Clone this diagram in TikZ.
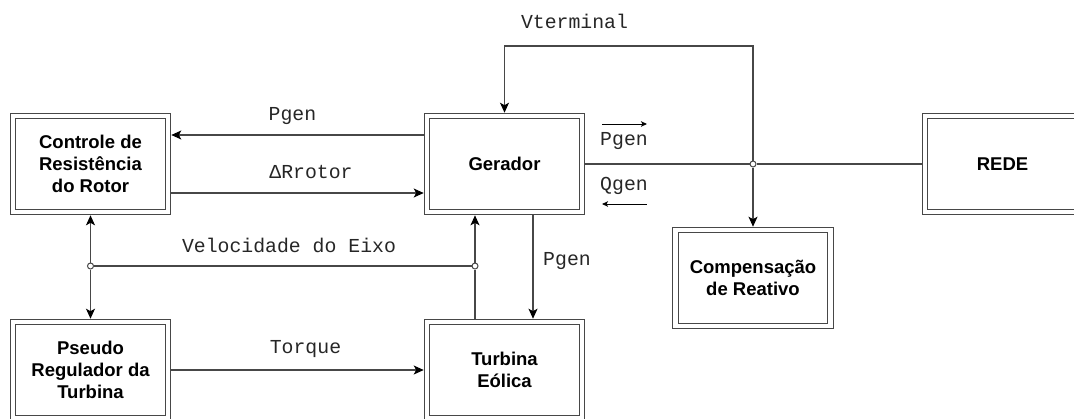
\documentclass[tikz,border=0pt]{standalone}
\usepackage{fontspec}
\usetikzlibrary{arrows.meta}
\newfontfamily\boxfont{Liberation Sans}
\newfontfamily\lblfont{Liberation Mono}

\tikzset{
	box/.style={draw=black!72, double=white, double distance=4.4pt, line width=1.1pt,
		minimum width=155pt, minimum height=96pt, outer sep=3.3pt, align=center,
		font={\boxfont\bfseries\fontsize{18.5}{21.8}\selectfont}},
	arr/.style={draw=black!72, line width=1.1pt, -{Stealth[length=10pt,width=9pt,inset=2.5pt,color=black]}},
	line/.style={draw=black!72, line width=1.1pt},
	sarr/.style={draw=black, line width=0.9pt, -{Stealth[length=6pt,width=5.5pt,inset=1.5pt]}},
	dot/.style={circle, draw=black!72, fill=white, line width=1pt, inner sep=0pt, minimum size=6pt},
	lbl/.style={inner sep=0pt, text=black!85, font={\lblfont\fontsize{19.8}{22}\selectfont}}
}

\begin{document}
\begin{tikzpicture}[x=1pt,y=-1pt]
	\useasboundingbox (0,0) rectangle (1074,418);
	% blocos
	\node[box] (ctrl) at (90.5,164) {Controle de\\Resistência\\do Rotor};
	\node[box] (ger) at (504.5,164) {Gerador};
	\node[box] (rede) at (1002.5,164) {REDE};
	\node[box] (comp) at (753,278) {Compensação\\de Reativo};
	\node[box] (pseudo) at (90.5,370) {Pseudo\\Regulador da\\Turbina};
	\node[box] (turb) at (504.5,370) {Turbina\\Eólica};
	% juncoes
	\node[dot] (j1) at (753,164) {};
	\node[dot] (j2) at (90.5,266) {};
	\node[dot] (j3) at (475,266) {};
	\coordinate (vt) at (753,46);
	\coordinate (pg) at (533,266);
	% ligacoes
	\draw[arr] ([yshift=29pt]ger.west) -- ([yshift=29pt]ctrl.east);
	\draw[arr] ([yshift=-29pt]ctrl.east) -- ([yshift=-29pt]ger.west);
	\draw[line] (ger.east) -- (j1);
	\draw[line] (j1) -- (rede.west);
	\draw[arr] (j1) -- (comp.north);
	\draw[arr] (j1) -- (vt) -| (ger.north);
	\draw[line] (j2) -- (j3);
	\draw[arr] (j2) -- (ctrl.south);
	\draw[arr] (j2) -- (pseudo.north);
	\draw[line] (turb.north -| j3) -- (j3);
	\draw[arr] (j3) -- (ger.south -| j3);
	\draw[arr] (ger.south -| pg) -- (turb.north -| pg);
	\draw[arr] (pseudo.east) -- (turb.west);
	% rotulos
	\node[lbl] (lpgen) at (292.5,116) {Pgen};
	\node[lbl] (lrot) at (311,172) {ΔRrotor};
	\node[lbl] (lvt) at (574.5,21) {Vterminal};
	\node[lbl] (lpout) at (624,141) {Pgen};
	\node[lbl] (lqgen) at (624,186) {Qgen};
	\node[lbl] (lvel) at (289,245) {Velocidade do Eixo};
	\node[lbl] (lpturb) at (567,261) {Pgen};
	\node[lbl] (ltorque) at (305.5,349) {Torque};
	\draw[sarr] ([shift={(2pt,17pt)}]lpout.west) -- ([shift={(-1pt,17pt)}]lpout.east);
	\draw[sarr] ([shift={(-1pt,-18pt)}]lqgen.east) -- ([shift={(2pt,-18pt)}]lqgen.west);
\end{tikzpicture}
\end{document}
